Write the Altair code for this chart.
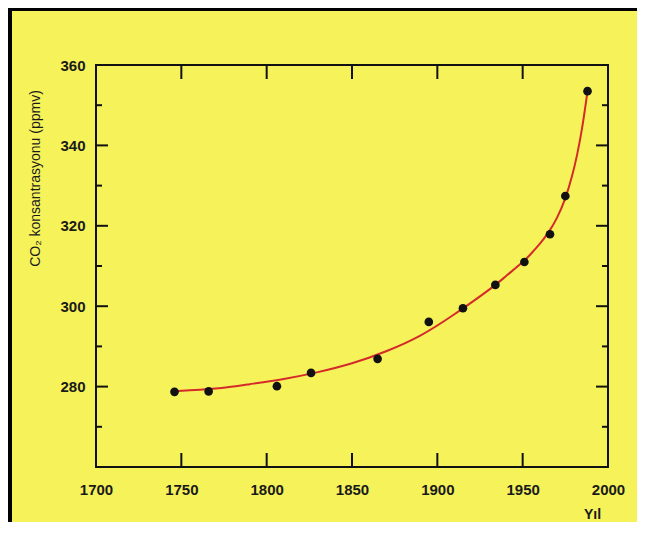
import altair as alt
import pandas as pd

# Measured points
point_years = [1746, 1766, 1806, 1826, 1865, 1895, 1915, 1934, 1951, 1966, 1975, 1988]
point_ppm = [278.7, 278.8, 280.1, 283.4, 286.9, 296.1, 299.5, 305.3, 311.0, 317.9, 327.4, 353.5]

# Fitted red curve
curve_years = [1748, 1770, 1790, 1810, 1830, 1850, 1870, 1890, 1910, 1930, 1940, 1950,
               1955, 1960, 1965, 1970, 1975, 1979, 1982, 1985, 1988]
curve_ppm = [278.9, 279.5, 280.6, 281.9, 283.6, 285.8, 288.8, 292.7, 298.0, 304.0, 307.4,
             311.0, 313.1, 315.5, 318.3, 321.9, 326.9, 332.5, 337.9, 344.8, 353.5]

x_ticks = [1700, 1750, 1800, 1850, 1900, 1950, 2000]
x_inner_ticks = [1750, 1800, 1850, 1900, 1950]
y_labels = [280, 300, 320, 340, 360]
y_major_ticks = [280, 300, 320, 340]
y_minor_ticks = [270, 290, 310, 330, 350]

X_DOM = [1700, 2000]
Y_DOM = [260, 360]
W, H = 512, 402
BG = "#f6f35a"
FONT = "Liberation Sans, Arial, sans-serif"
INK = "#1a1a1a"

pts = pd.DataFrame({"year": point_years, "ppm": point_ppm})
crv = pd.DataFrame({"year": curve_years, "ppm": curve_ppm})

xs = alt.Scale(domain=X_DOM, nice=False, zero=False)
ys = alt.Scale(domain=Y_DOM, nice=False, zero=False)

# tick lengths in data units
xlen_major = 12 * (X_DOM[1] - X_DOM[0]) / W
xlen_minor = 6 * (X_DOM[1] - X_DOM[0]) / W
ylen = 14 * (Y_DOM[1] - Y_DOM[0]) / H

yt_rows = []
for v in y_major_ticks:
    yt_rows.append({"x": X_DOM[0], "x2": X_DOM[0] + xlen_major, "y": v})
    yt_rows.append({"x": X_DOM[1], "x2": X_DOM[1] - xlen_major, "y": v})
for v in y_minor_ticks:
    yt_rows.append({"x": X_DOM[0], "x2": X_DOM[0] + xlen_minor, "y": v})
    yt_rows.append({"x": X_DOM[1], "x2": X_DOM[1] - xlen_minor, "y": v})
yt = pd.DataFrame(yt_rows)

xt_rows = []
for v in x_inner_ticks:
    xt_rows.append({"x": v, "y": Y_DOM[0], "y2": Y_DOM[0] + ylen})
    xt_rows.append({"x": v, "y": Y_DOM[1], "y2": Y_DOM[1] - ylen})
xt = pd.DataFrame(xt_rows)

base_x = alt.X("year:Q", scale=xs, axis=alt.Axis(
    values=x_ticks, format="d", ticks=False, domain=False, grid=False,
    labelFont=FONT, labelFontSize=15, labelFontWeight="bold", labelColor=INK,
    labelPadding=15, labelFlush=False,
    title="Yıl", titleFont=FONT, titleFontSize=14, titleFontWeight="bold",
    titleColor=INK, titleX=496, titleY=47, titleBaseline="middle", titleAlign="center"))
base_y = alt.Y("ppm:Q", scale=ys, axis=alt.Axis(
    values=y_labels, ticks=False, domain=False, grid=False,
    labelFont=FONT, labelFontSize=15, labelFontWeight="bold", labelColor=INK,
    labelPadding=11, labelFlush=False,
    title="CO₂ konsantrasyonu (ppmv)", titleFont=FONT, titleFontSize=14,
    titleFontWeight="normal", titleColor=INK, titleX=-61, titleY=113,
    titleAngle=-90, titleBaseline="middle", titleAlign="center"))

curve = alt.Chart(crv).mark_line(color="#d42a2a", strokeWidth=2, interpolate="natural").encode(
    x=base_x, y=base_y)
dots = alt.Chart(pts).mark_circle(color="#111111", opacity=1, size=75).encode(
    x=alt.X("year:Q", scale=xs), y=alt.Y("ppm:Q", scale=ys))

ytick_layer = alt.Chart(yt).mark_rule(color="#111111", strokeWidth=2).encode(
    x=alt.X("x:Q", scale=xs), x2="x2:Q", y=alt.Y("y:Q", scale=ys))
xtick_layer = alt.Chart(xt).mark_rule(color="#111111", strokeWidth=2).encode(
    x=alt.X("x:Q", scale=xs), y=alt.Y("y:Q", scale=ys), y2="y2:Q")

# decorative scan border on the left and top of the page
border_left = alt.Chart(pts).mark_rule(color="#000000", strokeWidth=4).encode(
    x=alt.value(-86), y=alt.value(-57), y2=alt.value(H + 55))
border_top = alt.Chart(pts).mark_rule(color="#000000", strokeWidth=3).encode(
    x=alt.value(-88), x2=alt.value(W + 29), y=alt.value(-56))

chart = alt.layer(border_left, border_top, ytick_layer, xtick_layer, curve, dots).properties(
    width=W, height=H,
    autosize=alt.AutoSizeParams(type="none"),
    padding={"left": 88, "top": 57, "right": 29, "bottom": 55},
    background=BG,
).configure_view(stroke="#111111", strokeWidth=2)

chart.save("out.html", embed_options={"renderer": "svg", "actions": False})
